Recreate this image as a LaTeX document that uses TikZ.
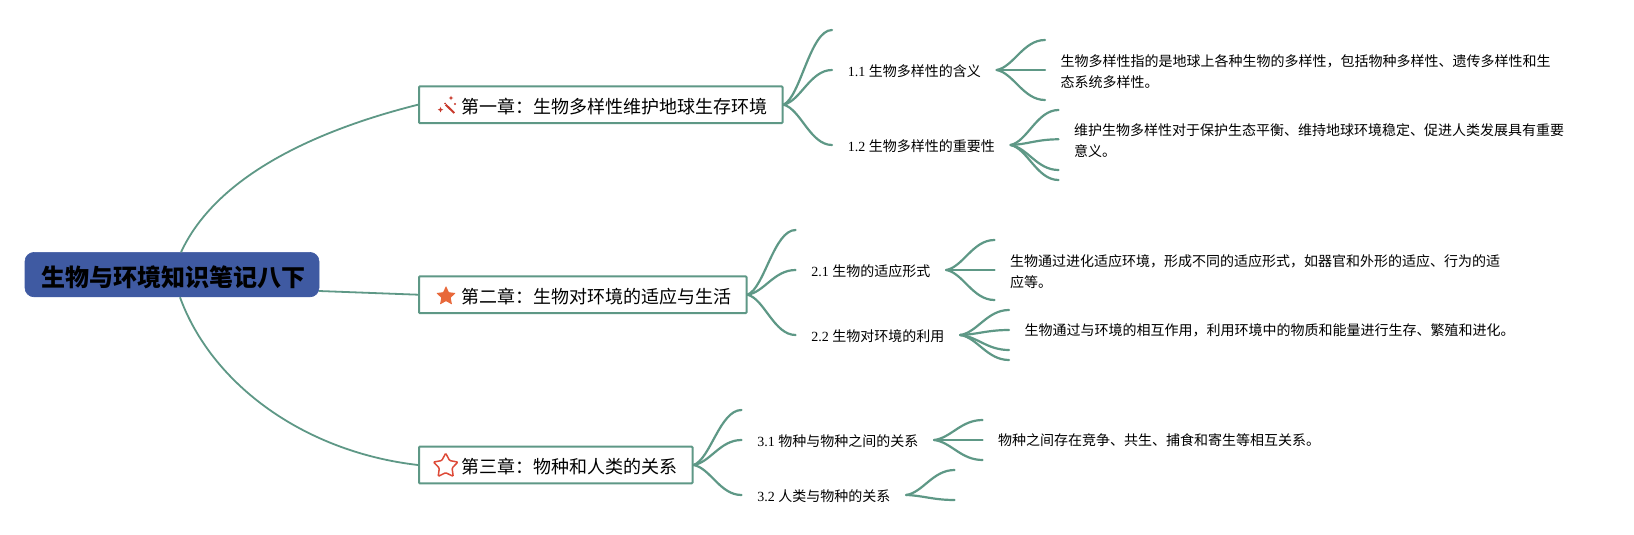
\documentclass[tikz,border=0pt]{standalone}
\usepackage{fontspec}
\setmainfont{Liberation Serif}
\newfontfamily\cjk{Noto Sans CJK SC}
\usetikzlibrary{calc,shapes.geometric}
\definecolor{linegreen}{HTML}{5E9886}
\definecolor{rootblue}{HTML}{3F5AA2}
\definecolor{wandred}{HTML}{C8392B}
\definecolor{staror}{HTML}{E8683A}
\definecolor{starred}{HTML}{DE4A38}
\newcommand\fan[2]{\draw[branch] (#1) .. controls ($.65*(#1)+.25*(#1 -| #2)+.1*(#2)$) and ($(#2)!.45!(#2 -| #1)$) .. (#2);}
\tikzset{
  x=1pt,y=-1pt,
  branch/.style={draw=linegreen,line width=2.2pt,line cap=round},
  rootline/.style={draw=linegreen,line width=1.8pt},
  rootnode/.style={fill=rootblue,draw=rootblue,rounded corners=9pt,line width=.6pt,minimum width=294pt,minimum height=44.4pt,inner sep=0pt,font=\cjk\bfseries\fontsize{24}{24}\selectfont,text=black,text height=24pt,text depth=0pt},
  chapter/.style={draw=linegreen,line width=2pt,fill=white,rounded corners=.8pt,anchor=west,inner xsep=0pt,inner ysep=0pt,minimum height=36.6pt,font=\cjk\fontsize{18}{18}\selectfont,text=black,text height=17pt,text depth=0pt},
  sublabel/.style={anchor=west,inner xsep=15.6pt,inner ysep=2pt,font=\fontsize{14}{14}\selectfont,text=black,text height=13pt,text depth=0pt},
  detail/.style={anchor=west,inner xsep=15.3pt,inner ysep=0pt,align=left,font=\cjk\fontsize{14}{20.9}\selectfont,text=black},
}
\begin{document}
\begin{tikzpicture}
\useasboundingbox[fill=white] (0,0) rectangle (1634,535);
% root
\node[rootnode] (root) at (172,274.6) {\hspace*{3pt}生物与环境知识笔记八下};
% chapters
\node[chapter] (ch1) at (418,104.7) {\hspace*{42.5pt}第一章：生物多样性维护地球生存环境\hspace*{15pt}};
\node[chapter] (ch2) at (418,294.7) {\hspace*{42.5pt}第二章：生物对环境的适应与生活\hspace*{15pt}};
\node[chapter] (ch3) at (418,465) {\hspace*{42.5pt}第三章：物种和人类的关系\hspace*{15pt}};
% icons
\draw[wandred,line width=2pt] (445.7,104.7) -- (454.3,113);
\node[star,star points=4,star point ratio=2.4,fill=wandred,inner sep=0pt,minimum size=4.5pt] (wa) at (451,98) {};
\node[star,star points=4,star point ratio=2.4,fill=wandred,inner sep=0pt,minimum size=5.5pt] (wb) at (440.5,109.7) {};
\node[circle,fill=wandred,inner sep=0pt,minimum size=2.2pt] (wc) at (455,104) {};
\node[circle,fill=wandred,inner sep=0pt,minimum size=2pt] (wd) at (445,103.5) {};
\node[star,star points=5,star point ratio=2.1,fill=staror,inner sep=0pt,minimum size=20.5pt,rounded corners=.6pt] (s2) at (446,296.2) {};
\node[star,star points=5,star point ratio=1.9,draw=starred,line width=1.5pt,fill=white,inner sep=0pt,minimum size=25.5pt,rounded corners=1pt] (s3) at (445.7,466) {};
% sub labels
\node[sublabel] (l11) at (832,70) {1.1 {\cjk 生物多样性的含义}};
\node[sublabel] (l12) at (832,145) {1.2 {\cjk 生物多样性的重要性}};
\node[sublabel] (l21) at (795.6,270) {2.1 {\cjk 生物的适应形式}};
\node[sublabel] (l22) at (795.6,335) {2.2 {\cjk 生物对环境的利用}};
\node[sublabel] (l31) at (741.5,440) {3.1 {\cjk 物种与物种之间的关系}};
\node[sublabel] (l32) at (741.5,495) {3.2 {\cjk 人类与物种的关系}};
% details
\node[detail] (d11) at (1045,70) {\rule{0pt}{15pt}生物多样性指的是地球上各种生物的多样性，包括物种多样性、遗传多样性和生\\态系统多样性。};
\node[detail] (d12) at (1058.5,141) {维护生物多样性对于保护生态平衡、维持地球环境稳定、促进人类发展具有重要\\意义。};
\node[detail] (d21) at (994.5,270) {\rule{0pt}{15pt}生物通过进化适应环境，形成不同的适应形式，如器官和外形的适应、行为的适\\应等。};
\node[detail] (d22) at (1009,330) {生物通过与环境的相互作用，利用环境中的物质和能量进行生存、繁殖和进化。};
\node[detail] (d31) at (982.6,440) {物种之间存在竞争、共生、捕食和寄生等相互关系。};
% free ends
\coordinate (rt) at (181,252.3);
\coordinate (rb) at (180,297.3);
\coordinate (rm) at (319,291);
\coordinate (e1a) at (832,30);
\coordinate (e11a) at (1045,40);
\coordinate (e11b) at (1045,100);
\coordinate (e12a) at (1058.5,110);
\coordinate (e12b) at (1058.5,139.3);
\coordinate (e12c) at (1058.5,170);
\coordinate (e12d) at (1058.5,180);
\coordinate (e2a) at (795.6,230);
\coordinate (e21a) at (994.5,240);
\coordinate (e21b) at (994.5,300);
\coordinate (e22a) at (1009,310);
\coordinate (e22b) at (1009,350);
\coordinate (e22c) at (1009,360);
\coordinate (e3a) at (741.5,410);
\coordinate (e31a) at (982.6,420);
\coordinate (e31b) at (982.6,460);
\coordinate (e32a) at (954.6,470);
\coordinate (e32b) at (954.6,500);
% root connectors
\draw[rootline] (rt) .. controls (218,172) and (325,128) .. (ch1.west);
\draw[rootline] (rm) -- (ch2.west);
\draw[rootline] (rb) .. controls (212,385) and (305,452) .. (ch3.west);
% chapter fans
\fan{ch1.east}{e1a}
\fan{ch1.east}{l11.west}
\fan{ch1.east}{l12.west}
\fan{ch2.east}{e2a}
\fan{ch2.east}{l21.west}
\fan{ch2.east}{l22.west}
\fan{ch3.east}{e3a}
\fan{ch3.east}{l31.west}
\fan{ch3.east}{l32.west}
% sub fans
\fan{l11.east}{e11a}
\fan{l11.east}{d11.west}
\fan{l11.east}{e11b}
\fan{l12.east}{e12a}
\fan{l12.east}{e12b}
\fan{l12.east}{e12c}
\fan{l12.east}{e12d}
\fan{l21.east}{e21a}
\fan{l21.east}{d21.west}
\fan{l21.east}{e21b}
\fan{l22.east}{e22a}
\fan{l22.east}{d22.west}
\fan{l22.east}{e22b}
\fan{l22.east}{e22c}
\fan{l31.east}{e31a}
\fan{l31.east}{d31.west}
\fan{l31.east}{e31b}
\fan{l32.east}{e32a}
\fan{l32.east}{e32b}
\end{tikzpicture}
\end{document}
